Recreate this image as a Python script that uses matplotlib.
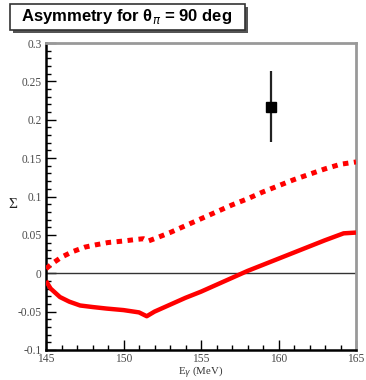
import matplotlib
matplotlib.use("Agg")
import matplotlib.pyplot as plt
from matplotlib.ticker import MultipleLocator, FixedLocator, FixedFormatter
from matplotlib.patches import Rectangle

# Data
solid_x = [145, 145.3, 145.9, 146.5, 147.2, 148, 148.9, 150, 151, 151.5, 152, 153, 154, 155,
           156, 157, 158, 159, 160, 161, 162, 163, 164.2, 165]
solid_y = [-0.010, -0.020, -0.031, -0.037, -0.042, -0.044, -0.046, -0.048, -0.051, -0.056,
           -0.050, -0.041, -0.032, -0.024, -0.015, -0.006, 0.003, 0.011, 0.019, 0.027,
           0.035, 0.043, 0.052, 0.053]
dot_x = [145, 145.5, 146, 146.7, 147.5, 148.2, 149, 150, 150.8, 151.3, 151.6, 152, 153, 154,
         155, 156, 157, 158, 159, 160, 161, 162, 163, 164, 165]
dot_y = [0.006, 0.014, 0.021, 0.028, 0.034, 0.037, 0.040, 0.042, 0.044, 0.045, 0.042, 0.045,
         0.053, 0.062, 0.071, 0.080, 0.089, 0.097, 0.106, 0.114, 0.122, 0.129, 0.136, 0.142, 0.145]
pt_x = [159.5]
pt_y = [0.217]
pt_err = [0.046]

xticks = [145, 150, 155, 160, 165]
xticklabels = ["145", "150", "155", "160", "165"]
yticks = [-0.1, -0.05, 0, 0.05, 0.1, 0.15, 0.2, 0.25, 0.3]
yticklabels = ["-0.1", "-0.05", "0", "0.05", "0.1", "0.15", "0.2", "0.25", "0.3"]

W, H = 366, 380
fig = plt.figure(figsize=(W / 100, H / 100), dpi=100)
L, R, T, B = 46, 356, 43, 350
ax = fig.add_axes([L / W, 1 - B / H, (R - L) / W, (B - T) / H])
ax.set_xlim(145, 165)
ax.set_ylim(-0.1, 0.3)

ax.plot(solid_x, solid_y, color="#ff0000", lw=3.2, solid_capstyle="butt", zorder=3)
ax.plot(dot_x, dot_y, color="#ff0000", lw=3.6, dashes=(1.1, 1.1), dash_capstyle="butt", zorder=3)
ax.axhline(0, color="#333333", lw=1.0, zorder=2)
ax.errorbar(pt_x, pt_y, yerr=pt_err, fmt="s", color="black", ecolor="#222222", ms=7,
            elinewidth=1.6, capsize=0, zorder=4)

serif = ["Liberation Serif", "DejaVu Serif"]
ax.xaxis.set_major_locator(FixedLocator(xticks))
ax.xaxis.set_major_formatter(FixedFormatter(xticklabels))
ax.yaxis.set_major_locator(FixedLocator(yticks))
ax.yaxis.set_major_formatter(FixedFormatter(yticklabels))
ax.xaxis.set_minor_locator(MultipleLocator(1))
ax.yaxis.set_minor_locator(MultipleLocator(0.01))
ax.tick_params(which="both", direction="in", top=False, right=False, color="black",
               labelcolor="#4a4a4a", labelsize=8.3, width=1.0)
ax.tick_params(which="major", length=7, pad=3)
ax.tick_params(which="minor", length=3.5)
ax.tick_params(axis="x", which="major", pad=2.5)
for lab in ax.get_xticklabels() + ax.get_yticklabels():
    lab.set_fontfamily(serif)

for s in ["top", "right"]:
    ax.spines[s].set_color("#999999")
    ax.spines[s].set_linewidth(2.0)
for s in ["left", "bottom"]:
    ax.spines[s].set_color("black")
    ax.spines[s].set_linewidth(1.8)

ax.set_ylabel("Σ", family=serif, fontsize=11, rotation=0, color="#222222",
              ha="center", va="center")
ax.yaxis.set_label_coords(-0.106, 0.475)
ax.set_xlabel(r"E$_{\gamma}$ (MeV)", family=serif, fontsize=7.8, color="#333333",
              va="center")
ax.xaxis.set_label_coords(0.5, -0.073)

# Title box
fig.patches.append(Rectangle((13 / W, 1 - 33 / H), 235 / W, 26 / H, transform=fig.transFigure,
                             facecolor="#555555", edgecolor="none", zorder=1))
fig.patches.append(Rectangle((10 / W, 1 - 30 / H), 235 / W, 26 / H, transform=fig.transFigure,
                             facecolor="white", edgecolor="#333333", lw=1.2, zorder=2))
fig.text(127 / W, 1 - 17 / H, r"Asymmetry for θ$_{\pi}$ = 90 deg",
         family=["Liberation Sans", "DejaVu Sans"], fontweight="bold", fontsize=12,
         ha="center", va="center", zorder=3)

fig.savefig("out.png", dpi=100)
